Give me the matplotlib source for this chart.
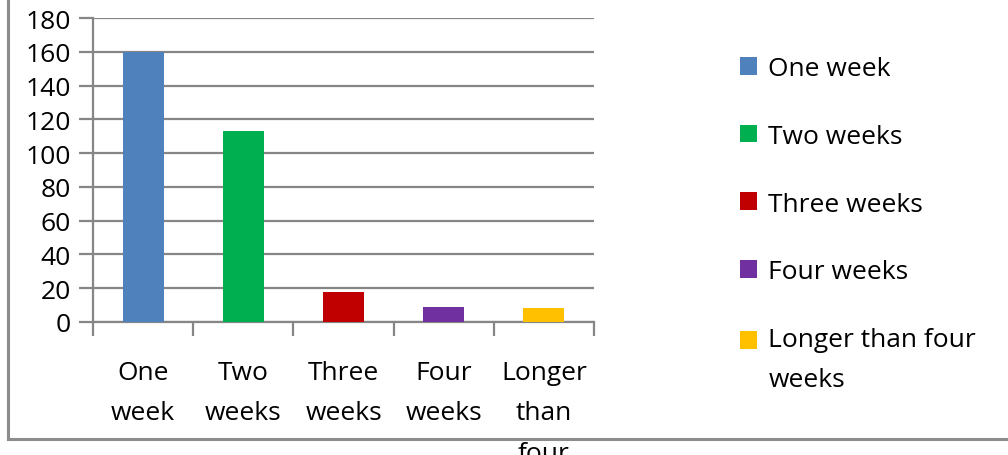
import matplotlib.pyplot as plt
from matplotlib.lines import Line2D
from matplotlib.patches import Patch, Rectangle
from matplotlib.legend_handler import HandlerPatch

categories = ["One\nweek", "Two\nweeks", "Three\nweeks", "Four\nweeks", "Longer\nthan\nfour"]
legend_labels = ["One week", "Two weeks", "Three weeks", "Four weeks", "Longer than four\nweeks"]
counts = [160, 113, 18, 9, 8]
colors = ["#4F81BD", "#00B050", "#C00000", "#7030A0", "#FFC000"]
yticks = [0, 20, 40, 60, 80, 100, 120, 140, 160, 180]

plt.rcParams["font.family"] = ["Open Sans", "DejaVu Sans"]
grid_col = "#868686"
fs = 19
line_sp = 1.8

fig = plt.figure(figsize=(10.08, 4.56), dpi=100)
ax = fig.add_axes([93 / 1008, 1 - 323 / 456, 501 / 1008, 304 / 456])

x = range(len(counts))
ax.bar(x, counts, width=0.41, color=colors, zorder=3)

ax.set_xlim(-0.5, len(counts) - 0.5)
ax.set_ylim(0, 180)
ax.set_yticks(yticks)
ax.yaxis.grid(True, color=grid_col, linewidth=1.6, zorder=0)
ax.tick_params(axis="y", length=10, width=1.6, color=grid_col, labelsize=fs, pad=6)

# category boundaries carry the tick marks, labels sit between them
ax.set_xticks([i - 0.5 for i in range(len(counts) + 1)])
ax.set_xticklabels([])
ax.tick_params(axis="x", which="major", direction="out", length=10, width=1.6, color=grid_col)
ax.set_xticks(list(x), minor=True)
ax.set_xticklabels(categories, minor=True, fontsize=fs, linespacing=line_sp)
ax.tick_params(axis="x", which="minor", length=0, pad=27.5)


def first_line_square(legend, orig_handle, xdescent, ydescent, width, height, fontsize):
    # lift the swatch so it sits next to the first line of a wrapped label
    lift = 0.5 * line_sp * fontsize * 0.82
    return Rectangle((-xdescent, -ydescent + lift), width, height)


for side in ["top", "right"]:
    ax.spines[side].set_visible(False)
for side in ["left", "bottom"]:
    ax.spines[side].set_color(grid_col)
    ax.spines[side].set_linewidth(1.6)

handles = [Patch(facecolor=c, edgecolor="none") for c in colors]
leg = fig.legend(handles, legend_labels, loc="upper left", bbox_to_anchor=(740 / 1008, 1 - 57 / 456),
                 frameon=False, fontsize=fs, handlelength=0.66, handleheight=0.66,
                 handletextpad=0.42, labelspacing=1.62, borderpad=0, borderaxespad=0,
                 handler_map={handles[-1]: HandlerPatch(patch_func=first_line_square)})
for t in leg.get_texts():
    t.set_linespacing(line_sp)

# outer chart border (only left and bottom edges are in view)
fig.add_artist(Line2D([7.5 / 1008, 7.5 / 1008], [1, 1 - 440 / 456], color="#8c8c8c", linewidth=2.2))
fig.add_artist(Line2D([7.5 / 1008, 1], [1 - 440 / 456, 1 - 440 / 456], color="#8c8c8c", linewidth=2.2))

fig.savefig("out.png", dpi=100)
